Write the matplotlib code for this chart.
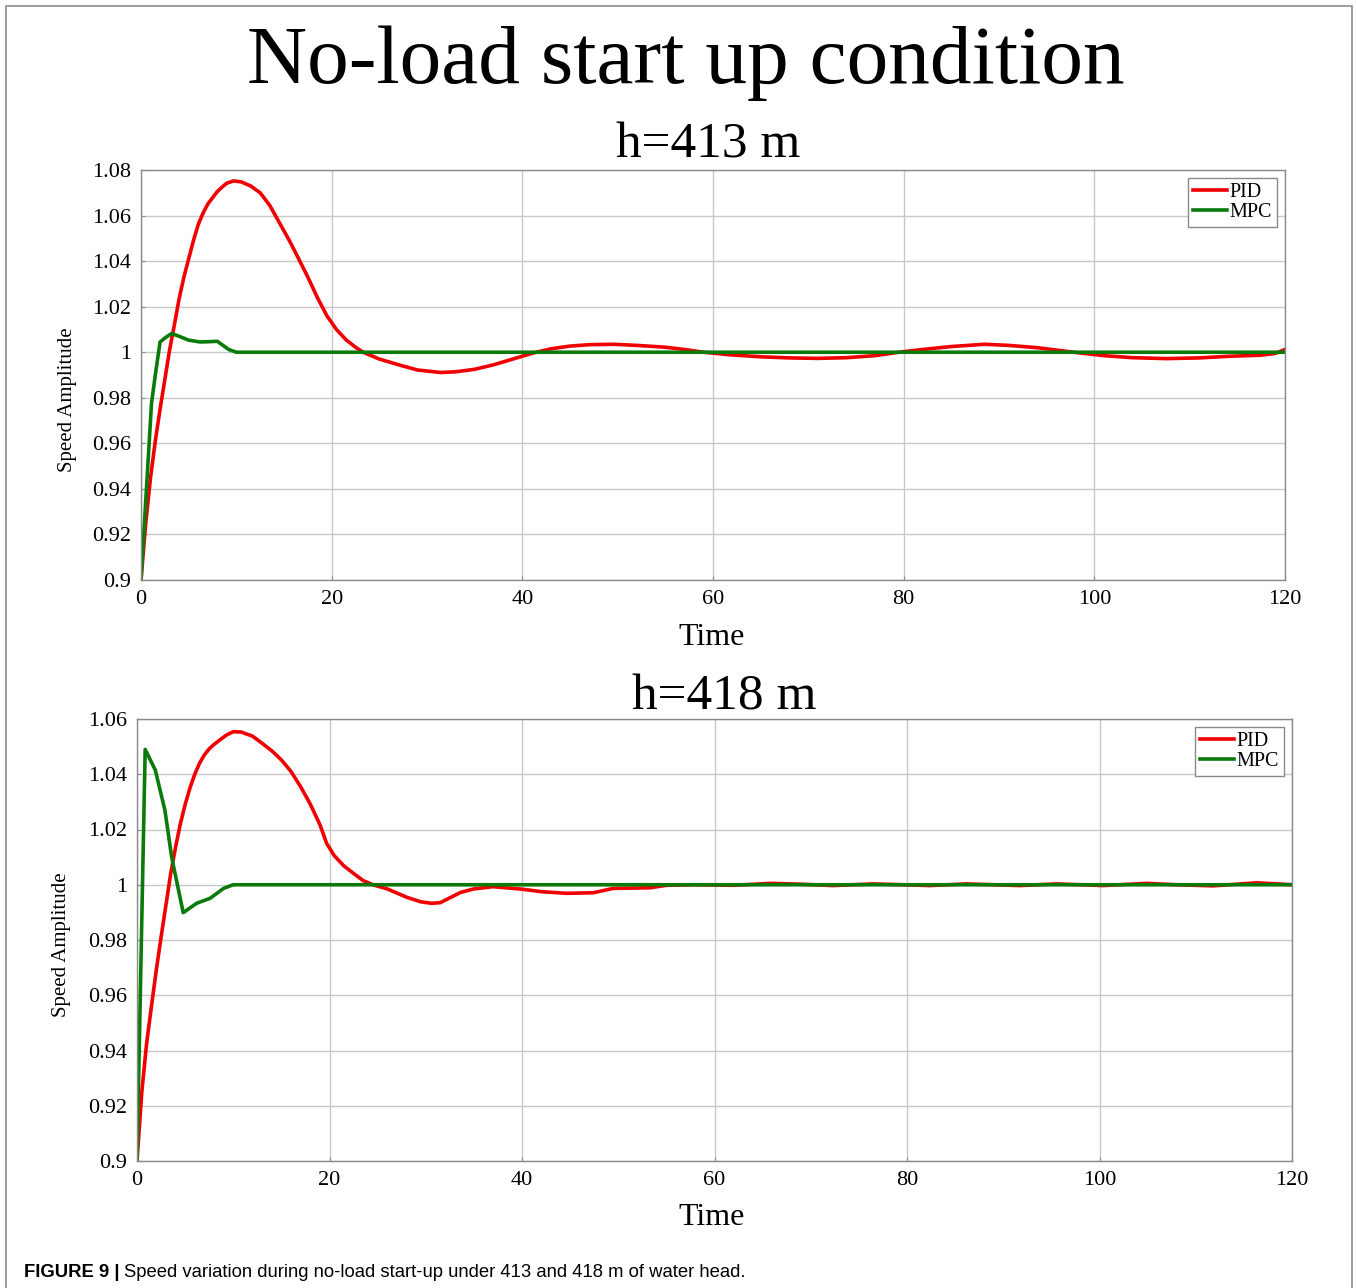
import matplotlib
matplotlib.use('Agg')
import matplotlib.pyplot as plt
from matplotlib.ticker import FuncFormatter
from matplotlib.patches import Rectangle

# h = 413 m
t_pid_413 = [0, 0.5, 1.0, 1.5, 2.0, 2.5, 3.0, 3.5, 4.0, 4.5, 5.0, 5.5, 6.0, 6.5, 7.0, 7.5,
             8.0, 8.5, 9.0, 9.7, 10.5, 11.5, 12.5, 13.5, 14.5, 15.5, 16.3, 17.5, 18.5, 19.5,
             20.5, 21.5, 22.5, 23.3, 25, 27, 29, 31.4, 33, 35, 37, 39, 41, 43, 45, 47, 49.5,
             52, 55, 57, 59, 62, 65, 68, 71, 74, 77, 79.5, 82, 85, 88.5, 91, 94, 97.8, 101,
             104, 107.5, 111, 114, 117.5, 119, 120]
y_pid_413 = [0.900, 0.925, 0.945, 0.961, 0.975, 0.988, 1.001, 1.012, 1.0235, 1.033, 1.041,
             1.049, 1.056, 1.061, 1.065, 1.0678, 1.0705, 1.0725, 1.0742, 1.0752, 1.0748,
             1.0730, 1.0700, 1.0645, 1.0570, 1.0495, 1.0430, 1.0330, 1.0240, 1.0160, 1.0100,
             1.0055, 1.0022, 1.0000, 0.9970, 0.9945, 0.9922, 0.9911, 0.9914, 0.9925, 0.9945,
             0.9970, 0.9995, 1.0015, 1.0027, 1.0033, 1.0035, 1.0030, 1.0022, 1.0012, 1.0000,
             0.9988, 0.9980, 0.9975, 0.9973, 0.9976, 0.9985, 1.0000, 1.0012, 1.0025, 1.0035,
             1.0030, 1.0020, 1.0000, 0.9985, 0.9976, 0.9972, 0.9975, 0.9982, 0.9987, 0.9995,
             1.0012]
t_mpc_413 = [0, 0.5, 1.1, 1.5, 2.0, 2.6, 3.2, 4.0, 5.0, 6.2, 7.0, 8.0, 8.6, 9.2, 10.0, 120]
y_mpc_413 = [0.900, 0.935, 0.9775, 0.990, 1.0045, 1.0065, 1.0082, 1.0070, 1.0053, 1.0045,
             1.0046, 1.0048, 1.0030, 1.0012, 1.0000, 1.0000]

# h = 418 m
t_pid_418 = [0, 0.5, 1.0, 1.5, 2.0, 2.5, 3.0, 3.5, 4.0, 4.5, 5.0, 5.5, 6.0, 6.5, 7.0, 7.5,
             8.0, 8.6, 9.3, 10.0, 10.8, 12.0, 13.0, 14.0, 15.0, 16.0, 17.0, 18.0, 19.0, 19.7,
             20.5, 21.5, 22.5, 23.5, 24.5, 26, 28, 29.5, 30.6, 31.5, 33.6, 35, 37, 40, 42,
             44.6, 47.4, 49.5, 53.3, 55, 58, 62, 65.8, 69, 72.3, 76.5, 79.5, 82.4, 86.2, 89,
             91.7, 95.5, 98, 100.4, 104.9, 108, 111.8, 116.3, 118.5, 120]
y_pid_418 = [0.900, 0.925, 0.9426, 0.956, 0.969, 0.981, 0.9925, 1.004, 1.0135, 1.022, 1.029,
             1.035, 1.040, 1.044, 1.047, 1.0492, 1.0508, 1.0524, 1.0542, 1.0554, 1.0553,
             1.0538, 1.0512, 1.0485, 1.0452, 1.0410, 1.0355, 1.0292, 1.0218, 1.0150, 1.0105,
             1.0068, 1.0041, 1.0015, 1.0000, 0.9985, 0.9955, 0.9938, 0.9933, 0.9935, 0.9972,
             0.9985, 0.9993, 0.9984, 0.9975, 0.9969, 0.9971, 0.9987, 0.9989, 0.9998, 1.0000,
             0.9998, 1.0005, 1.0002, 0.9997, 1.0003, 1.0000, 0.9997, 1.0003, 1.0000, 0.9997,
             1.0003, 1.0000, 0.9997, 1.0005, 1.0000, 0.9996, 1.0007, 1.0003, 1.0000]
t_mpc_418 = [0, 0.85, 1.9, 2.9, 3.6, 4.8, 6.2, 7.6, 9.0, 10.0, 120]
y_mpc_418 = [0.900, 1.049, 1.0415, 1.027, 1.010, 0.9899, 0.9933, 0.9951, 0.9987, 1.0000,
             1.0000]

xticks = [0, 20, 40, 60, 80, 100, 120]
yticks_413 = [0.9, 0.92, 0.94, 0.96, 0.98, 1.0, 1.02, 1.04, 1.06, 1.08]
yticks_418 = [0.9, 0.92, 0.94, 0.96, 0.98, 1.0, 1.02, 1.04, 1.06]

serif = 'Liberation Serif'
red = '#f00000'
green = '#0a7a0a'

fig = plt.figure(figsize=(13.56, 12.88), dpi=100)

# outer border of the figure panel
fig.patches.append(Rectangle((6 / 1356, -0.01), 1346 / 1356, 1 - 6 / 1288 + 0.01,
                             transform=fig.transFigure, fill=False,
                             edgecolor='#8c8c8c', lw=1.2))

fig.text(0.506, 1 - 83 / 1288, 'No-load start up condition', family=serif,
         fontsize=60, ha='center', va='baseline')


def panel(rect, t1, y1, t2, y2, yticks, title, title_x, title_y, xlab_y, ylab_x, ylab_y):
    ax = fig.add_axes(rect)
    ax.plot(t1, y1, color=red, lw=2.6, label='PID')
    ax.plot(t2, y2, color=green, lw=2.6, label='MPC')
    ax.set_xlim(0, 120)
    ax.set_ylim(yticks[0], yticks[-1])
    ax.set_xticks(xticks)
    ax.set_yticks(yticks)
    ax.yaxis.set_major_formatter(FuncFormatter(lambda v, p: '%g' % round(v, 2)))
    ax.grid(True, color='#c8c8c8', lw=1)
    for s in ax.spines.values():
        s.set_color('#8a8a8a')
        s.set_linewidth(1)
    ax.tick_params(direction='in', length=3, color='#8a8a8a', labelsize=16, pad=7)
    for lab in ax.get_xticklabels() + ax.get_yticklabels():
        lab.set_family(serif)
    leg = ax.legend(loc='upper right', prop={'family': serif, 'size': 14.5},
                    fancybox=False, framealpha=1, edgecolor='#8a8a8a',
                    handlelength=1.7, handletextpad=0.1, labelspacing=0.05,
                    borderpad=0.25, borderaxespad=0.4)
    leg.get_frame().set_linewidth(1)
    fig.text(title_x, title_y, title, family=serif, fontsize=37, ha='center', va='baseline')
    fig.text(0.525, xlab_y, 'Time', family=serif, fontsize=23, ha='center', va='baseline')
    fig.text(ylab_x, ylab_y, 'Speed Amplitude', family=serif, fontsize=15,
             rotation=90, ha='center', va='center')
    return ax


panel([141 / 1356, 1 - 580 / 1288, 1144 / 1356, 410 / 1288],
      t_pid_413, y_pid_413, t_mpc_413, y_mpc_413, yticks_413,
      'h=413 m', 0.5225, 1 - 157 / 1288, 1 - 645 / 1288, 0.050, 1 - 400 / 1288)
panel([137 / 1356, 1 - 1161 / 1288, 1155 / 1356, 442 / 1288],
      t_pid_418, y_pid_418, t_mpc_418, y_mpc_418, yticks_418,
      'h=418 m', 0.534, 1 - 710 / 1288, 1 - 1225 / 1288, 0.0457, 1 - 945 / 1288)

# caption
cap_y = 1 - 1277 / 1288
bold = fig.text(24 / 1356, cap_y, 'FIGURE 9 |', family='Liberation Sans',
                fontweight='bold', fontsize=13.3, va='baseline')
fig.canvas.draw()
bb = bold.get_window_extent()
fig.text((bb.x1 + 5) / 1356, cap_y,
         'Speed variation during no-load start-up under 413 and 418 m of water head.',
         family='Liberation Sans', fontsize=13.3, va='baseline')

fig.savefig('out.png', dpi=100)
